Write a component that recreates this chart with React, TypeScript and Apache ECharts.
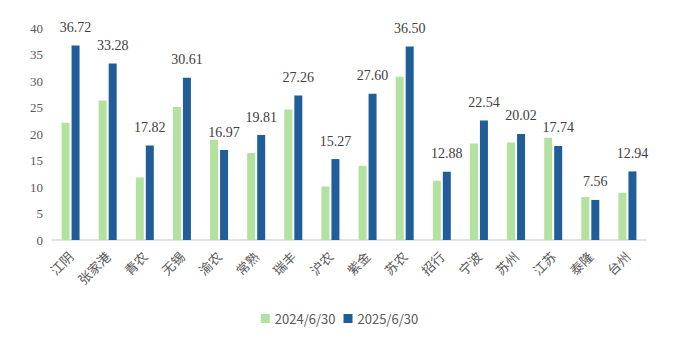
import React, { useEffect, useRef } from "react";
import * as echarts from "echarts";

const categories = ["江阴", "张家港", "青农", "无锡", "渝农", "常熟", "瑞丰", "沪农", "紫金", "苏农", "招行", "宁波", "苏州", "江苏", "泰隆", "台州"];
const values2024 = [22.1, 26.3, 11.8, 25.1, 18.9, 16.4, 24.6, 10.1, 14.0, 30.8, 11.2, 18.2, 18.4, 19.3, 8.1, 8.9];
const values2025 = [36.72, 33.28, 17.82, 30.61, 16.97, 19.81, 27.26, 15.27, 27.6, 36.5, 12.88, 22.54, 20.02, 17.74, 7.56, 12.94];
const yTicks = { min: 0, max: 40, interval: 5 };

export default function App() {
  const ref = useRef<HTMLDivElement>(null);
  useEffect(() => {
    const chart = echarts.init(ref.current!, null, { renderer: "svg" });
    chart.setOption({
      animation: false,
      grid: { left: 52, right: 33, top: 28, bottom: 110 },
      legend: {
        bottom: 20,
        left: "center",
        itemWidth: 9,
        itemHeight: 9,
        itemGap: 8,
        icon: "rect",
        textStyle: { color: "#595959", fontSize: 13, fontFamily: "Noto Sans CJK SC, sans-serif" },
        data: ["2024/6/30", "2025/6/30"],
      },
      xAxis: {
        type: "category",
        data: categories,
        axisLine: { lineStyle: { color: "#d9d9d9", width: 1.5 } },
        axisTick: { show: false },
        axisLabel: {
          rotate: 45,
          interval: 0,
          margin: 14,
          color: "#595959",
          fontSize: 13,
          fontFamily: "Noto Sans CJK SC, sans-serif",
        },
      },
      yAxis: {
        type: "value",
        min: yTicks.min,
        max: yTicks.max,
        interval: yTicks.interval,
        splitLine: { show: false },
        axisLine: { show: false },
        axisTick: { show: false },
        axisLabel: { color: "#595959", fontSize: 13, fontFamily: "Liberation Serif, serif", margin: 9 },
      },
      series: [
        {
          name: "2024/6/30",
          type: "bar",
          data: values2024,
          barWidth: 8,
          barGap: "25%",
          itemStyle: { color: "#b3e19f" },
        },
        {
          name: "2025/6/30",
          type: "bar",
          data: values2025,
          barWidth: 8,
          itemStyle: { color: "#215e99" },
          label: {
            show: true,
            position: "top",
            distance: 11,
            color: "#404040",
            fontSize: 14,
            fontFamily: "Liberation Serif, serif",
            formatter: (p: any) => p.value.toFixed(2),
          },
        },
      ],
    });
    return () => chart.dispose();
  }, []);
  return <div ref={ref} style={{ width: 679, height: 350, position: "absolute", left: 0, top: 0 }} />;
}
